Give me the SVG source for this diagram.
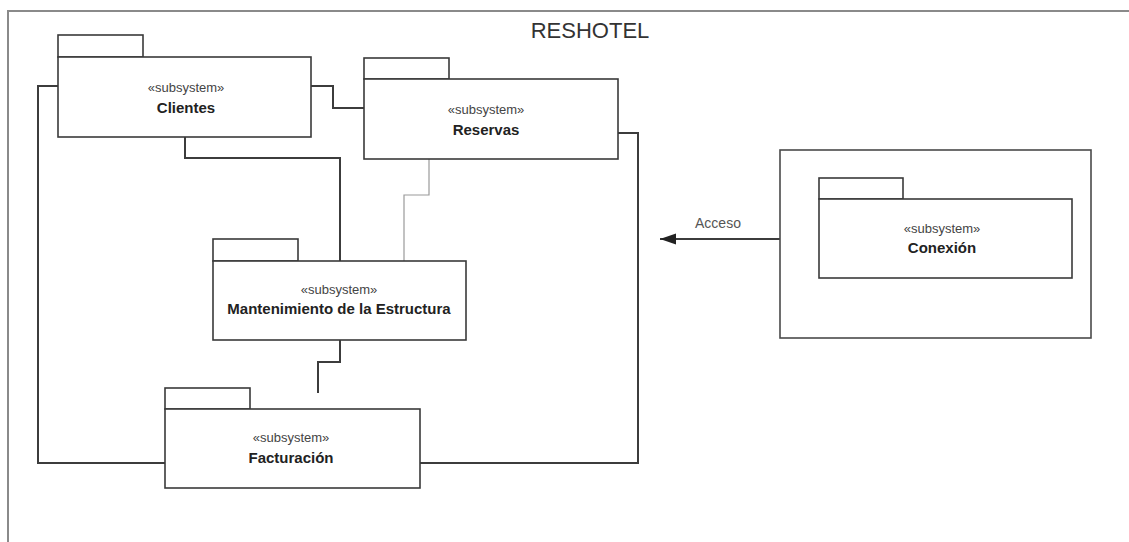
<svg xmlns="http://www.w3.org/2000/svg" width="1129" height="542" viewBox="0 0 1129 542">
  <style>
    .frame { fill: none; stroke: #8a8a8a; stroke-width: 2; }
    .pkg { fill: #ffffff; stroke: #3a3a3a; stroke-width: 1.6; }
    .box { fill: #ffffff; stroke: #4a4a4a; stroke-width: 1.6; }
    .link { fill: none; stroke: #3c3c3c; stroke-width: 2; }
    .thin { fill: none; stroke: #9a9a9a; stroke-width: 1.2; }
    .stereo { font-family: "Liberation Sans", Arial, sans-serif; font-size: 13px; fill: #444; text-anchor: middle; }
    .name { font-family: "Liberation Sans", Arial, sans-serif; font-size: 15px; font-weight: bold; fill: #222; text-anchor: middle; }
    .title { font-family: "Liberation Sans", Arial, sans-serif; font-size: 22px; fill: #333; text-anchor: middle; }
    .label { font-family: "Liberation Sans", Arial, sans-serif; font-size: 14px; fill: #555; text-anchor: middle; }
  </style>
  <defs>
    <!-- filled triangular arrowhead; tip sits on the end of the line -->
    <marker id="arrow" markerWidth="17" markerHeight="12" refX="16" refY="6" orient="auto" markerUnits="userSpaceOnUse">
      <path d="M16,6 L0,0.5 L0,11.5 Z" fill="#222"/>
    </marker>
  </defs>

  <rect width="1129" height="542" fill="#ffffff"/>

  <!-- system frame -->
  <g id="frame">
    <path class="frame" d="M8,542 L8,11 L1129,11"/>
    <text class="title" x="590" y="38">RESHOTEL</text>
  </g>

  <!-- connectors -->
  <g id="connectors">
    <path class="link" d="M311,86 L333,86 L333,108 L364,108"/>
    <path class="link" d="M185,137 L185,158 L340,158 L340,261"/>
    <path class="thin" d="M429,159 L429,195 L404,195 L404,261"/>
    <path class="link" d="M618,133 L638,133 L638,463 L420,463"/>
    <path class="link" d="M58,86 L38,86 L38,463 L165,463"/>
    <path class="link" d="M340,340 L340,362 L318,362 L318,393"/>
    <path class="link" d="M780,239 L660,239" marker-end="url(#arrow)"/>
    <text class="label" x="718" y="228">Acceso</text>
  </g>

  <!-- Clientes -->
  <g id="clientes">
    <rect class="pkg" x="58" y="35" width="85" height="22"/>
    <rect class="pkg" x="58" y="57" width="253" height="80"/>
    <text class="stereo" x="186" y="92">«subsystem»</text>
    <text class="name" x="186" y="113">Clientes</text>
  </g>

  <!-- Reservas -->
  <g id="reservas">
    <rect class="pkg" x="364" y="58" width="85" height="21"/>
    <rect class="pkg" x="364" y="79" width="254" height="80"/>
    <text class="stereo" x="486" y="114">«subsystem»</text>
    <text class="name" x="486" y="135">Reservas</text>
  </g>

  <!-- Mantenimiento de la Estructura -->
  <g id="mantenimiento">
    <rect class="pkg" x="213" y="239" width="85" height="22"/>
    <rect class="pkg" x="213" y="261" width="253" height="79"/>
    <text class="stereo" x="339" y="294">«subsystem»</text>
    <text class="name" x="339" y="314">Mantenimiento de la Estructura</text>
  </g>

  <!-- Facturación -->
  <g id="facturacion">
    <rect class="pkg" x="165" y="388" width="85" height="21"/>
    <rect class="pkg" x="165" y="409" width="255" height="79"/>
    <text class="stereo" x="291" y="442">«subsystem»</text>
    <text class="name" x="291" y="463">Facturación</text>
  </g>

  <!-- Conexión, inside its enclosing box -->
  <g id="conexion">
    <rect class="box" x="780" y="150" width="311" height="188"/>
    <rect class="pkg" x="819" y="178" width="84" height="21"/>
    <rect class="pkg" x="819" y="199" width="253" height="79"/>
    <text class="stereo" x="942" y="233">«subsystem»</text>
    <text class="name" x="942" y="253">Conexión</text>
  </g>
</svg>
